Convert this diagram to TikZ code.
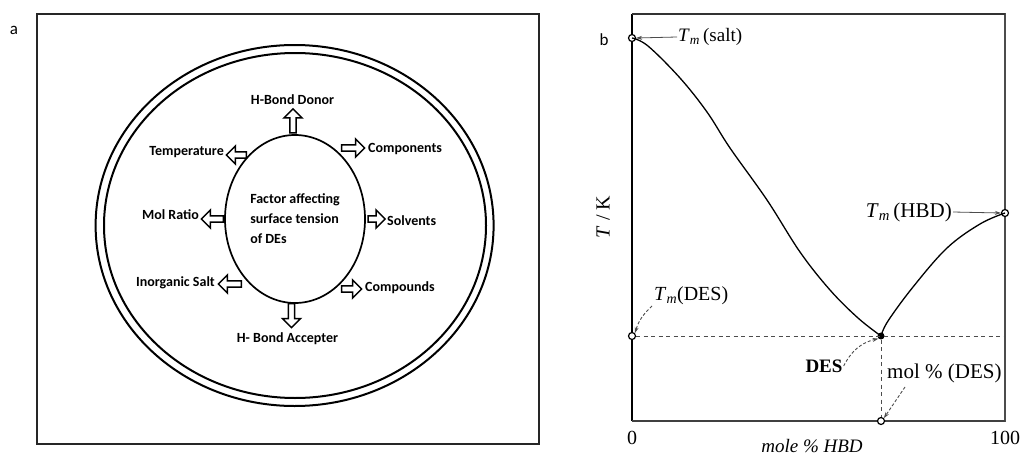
\documentclass[tikz,border=0pt]{standalone}
\usepackage{fontspec}
\setmainfont{Liberation Serif}
\newfontfamily\carl{Carlito}
\usetikzlibrary{shapes.arrows,shapes.geometric,arrows.meta}
\tikzset{
  blk/.style={single arrow, draw, line width=1.5pt, fill=white, minimum width=18pt,
    single arrow head extend=4pt, single arrow head indent=0pt, inner sep=1.5pt},
  flab/.style={font=\carl\bfseries\fontsize{14}{16}\selectfont, inner sep=1pt},
  blab/.style={font=\fontsize{20}{22}\selectfont, inner sep=1pt},
  pt/.style={circle, draw, line width=1.2pt, inner sep=0pt, minimum size=7pt, fill=white},
  lead/.style={draw=black!70, line width=0.8pt, -{Stealth[length=6pt,width=4pt]}},
  dlead/.style={draw=black!70, line width=0.9pt, dash pattern=on 3pt off 2pt, -{Stealth[length=6pt,width=4pt]}},
}
\begin{document}
\begin{tikzpicture}[x=1pt,y=-1pt]
\useasboundingbox (0,0) rectangle (1020,455);
% ---------- panel a ----------
\node[font=\carl\fontsize{17}{19}\selectfont] (la) at (14,30) {a};
\draw[line width=2pt, draw=black!85] (37,14) rectangle (539,444);
\draw[line width=2pt] (294.6,225.5) ellipse [x radius=199, y radius=180.5];
\draw[line width=2pt] (295,225.5) ellipse [x radius=191, y radius=172.5];
\node[ellipse, draw, line width=1.7pt, minimum width=140pt, minimum height=168pt, inner sep=0pt] (core) at (295,219) {};
\node[align=left, font=\carl\bfseries\fontsize{14}{20}\selectfont, inner sep=0pt] (ctext) at (295,219)
  {Factor affecting\\surface tension\\of DEs};
% block arrows
\node[blk, minimum height=24pt, rotate=90] (aup) at (293,122.5) {};
\node[blk, minimum height=23pt] (acomp) at (351.5,148) {};
\node[blk, minimum height=20pt, rotate=180] (atemp) at (238,155) {};
\node[blk, minimum height=22pt, rotate=180] (amol) at (214,219) {};
\node[blk, minimum height=17pt] (asolv) at (375,219) {};
\node[blk, minimum height=23pt, rotate=180] (asalt) at (231.5,284) {};
\node[blk, minimum height=20pt] (acmpd) at (350,289) {};
\node[blk, minimum height=24pt, rotate=-90] (adown) at (291.5,314) {};
% labels
\node[flab] (donor) at (292.5,100) {H-Bond Donor};
\node[flab, anchor=west] (comp) at (367,149) {Components};
\node[flab, anchor=east] (temp) at (225,152) {Temperature};
\node[flab, anchor=east] (mol) at (200,215) {Mol Ratio};
\node[flab, anchor=west] (solv) at (386,221) {Solvents};
\node[flab, anchor=east] (salt) at (216,283) {Inorganic Salt};
\node[flab, anchor=west] (cmpd) at (364,288) {Compounds};
\node[flab] (acc) at (287.5,339) {H- Bond Accepter};
% ---------- panel b ----------
\node[font=\carl\fontsize{17}{19}\selectfont] (lb) at (604,40) {b};
\coordinate (o) at (632,421);
\coordinate (tl) at (632,14);
\coordinate (tr) at (1005,14);
\coordinate (br) at (1005,421);
\draw[line width=1.4pt, draw=black!70] (tl) -- (tr) -- (br) -- (o);
\draw[line width=2.2pt] (o) -- (tl);
\draw[line width=2pt, draw=black!80] (tl) -- (tr);
\draw[line width=1.8pt, draw=black!75] (o) -- (br);
\coordinate (de) at (1005,336);
\node[pt] (psalt) at (632,38) {};
\node[pt] (phbd) at (1005,213) {};
\node[pt] (ptdes) at (632,336) {};
\node[pt] (pmol) at (881,421) {};
\node[circle, fill=black, inner sep=0pt, minimum size=7pt] (pdes) at (881,336) {};
\draw[line width=1pt, draw=black!70, dash pattern=on 4pt off 3.5pt] (ptdes) -- (de);
\draw[line width=1pt, draw=black!70, dash pattern=on 4pt off 3.5pt] (pdes) -- (pmol);
\draw[line width=1.3pt] plot[smooth, tension=0.6] coordinates
  {(632,38) (648,46) (680,78) (707,112) (730,148) (767,200) (800,252) (830,290) (858,318) (881,336)};
\draw[line width=1.3pt] plot[smooth, tension=0.6] coordinates
  {(881,336) (888,321) (913,287) (947,248) (980,224) (1005,213)};
% labels
\node[blab, font=\fontsize{19}{21}\selectfont, anchor=west] (lsalt) at (677,37) {\textit{T}\textsubscript{\itshape m}\,(salt)};
\node[blab, font=\fontsize{21}{23}\selectfont, anchor=east] (lhbd) at (953,212) {\textit{T}\textsubscript{\itshape m}\,(HBD)};
\node[blab, anchor=west] (ltdes) at (653,296) {\textit{T}\textsubscript{\itshape m}(DES)};
\node[blab, font=\bfseries\fontsize{19}{21}\selectfont] (ldes) at (824,366) {DES};
\node[blab, font=\fontsize{21}{23}\selectfont, anchor=west] (lmol) at (886,373) {mol \% (DES)};
\node[blab] (l0) at (632,438) {0};
\node[blab] (l100) at (1005,438) {100};
\node[blab, font=\itshape\fontsize{19}{21}\selectfont] (lx) at (812,446) {mole \% HBD};
\node[blab, rotate=90] (ly) at (603,217) {\textit{T} / K};
\draw[lead] (lsalt.west) -- (psalt.east);
\draw[lead] (lhbd.east) -- (phbd.west);
\draw[dlead] (652,306) to[bend right=15] (ptdes.north east);
\draw[dlead] (ldes.east) to[bend left=25] (pdes.south west);
\draw[dlead] (905,387) -- (pmol.north east);
\end{tikzpicture}
\end{document}
